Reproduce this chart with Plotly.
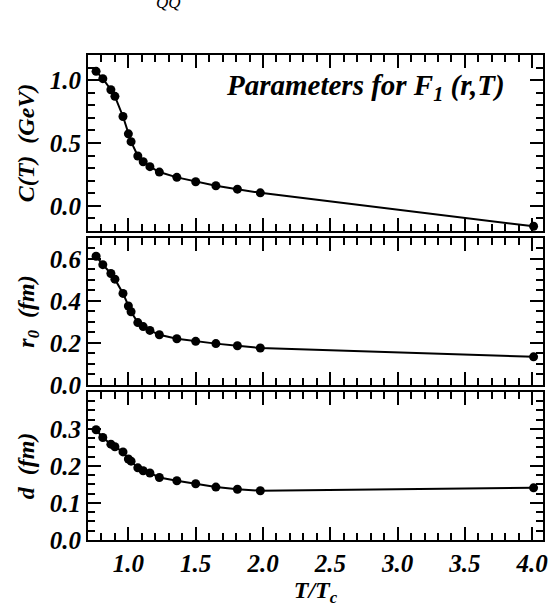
import plotly.graph_objects as go
from plotly.subplots import make_subplots

# Data
t_over_tc = [0.76, 0.81, 0.87, 0.90, 0.96, 1.00, 1.02, 1.07, 1.11, 1.16, 1.23, 1.36, 1.50, 1.65, 1.81, 1.98, 4.01]
c_T = [1.070, 1.012, 0.924, 0.871, 0.711, 0.573, 0.511, 0.397, 0.351, 0.312, 0.269, 0.227, 0.192, 0.160, 0.133, 0.104, -0.162]
r0 = [0.613, 0.573, 0.531, 0.504, 0.436, 0.376, 0.349, 0.297, 0.278, 0.260, 0.239, 0.220, 0.208, 0.197, 0.187, 0.176, 0.134]
d_vals = [0.298, 0.277, 0.259, 0.252, 0.238, 0.219, 0.213, 0.195, 0.187, 0.181, 0.169, 0.160, 0.152, 0.143, 0.137, 0.133, 0.141]

x_ticks = [1.0, 1.5, 2.0, 2.5, 3.0, 3.5, 4.0]
x_ticktext = ["1.0", "1.5", "2.0", "2.5", "3.0", "3.5", "4.0"]
c_ticks = [0.0, 0.5, 1.0]
c_ticktext = ["0.0", "0.5", "1.0"]
r_ticks = [0.0, 0.2, 0.4, 0.6]
r_ticktext = ["0.0", "0.2", "0.4", "0.6"]
d_ticks = [0.0, 0.1, 0.2, 0.3]
d_ticktext = ["0.0", "0.1", "0.2", "0.3"]

FONT = "Liberation Serif"


def bi(labels):
    return [f"<b><i>{s}</i></b>" for s in labels]


fig = make_subplots(rows=3, cols=1, shared_xaxes=False, vertical_spacing=0.0)

for i, ys in enumerate([c_T, r0, d_vals], start=1):
    fig.add_trace(go.Scatter(
        x=t_over_tc, y=ys, mode="lines+markers",
        line=dict(color="black", width=2),
        marker=dict(color="black", size=9),
        showlegend=False, cliponaxis=False,
    ), row=i, col=1)

domains = [[0.637, 1.0], [0.3196, 0.6227], [0.0, 0.3052]]
tickfont = dict(family=FONT, size=25, color="black")
titlefont = dict(family=FONT, size=24, color="black")

common_axis = dict(
    showline=True, linecolor="black", linewidth=2, mirror="ticks",
    ticks="inside", ticklen=13, tickwidth=1.5, tickcolor="black",
    showgrid=False, zeroline=False, automargin=False,
    minor=dict(ticks="inside", ticklen=7, tickwidth=1.5, tickcolor="black", showgrid=False),
)

for i in range(1, 4):
    xname = "xaxis" if i == 1 else f"xaxis{i}"
    fig.layout[xname].update(
        range=[0.7, 4.08], tickvals=x_ticks, ticktext=bi(x_ticktext),
        showticklabels=(i == 3), tickfont=tickfont,
        **common_axis,
    )
    fig.layout[xname].minor.update(dtick=0.1, tick0=0.0)
    yname = "yaxis" if i == 1 else f"yaxis{i}"
    fig.layout[yname].update(domain=domains[i - 1], tickfont=tickfont, **common_axis)

fig.update_yaxes(range=[-0.2, 1.2], tickvals=c_ticks, ticktext=bi(c_ticktext),
                 minor=dict(dtick=0.1, tick0=0.0),
                 title=dict(text="<b><i>C(T)\u00a0\u00a0(GeV)</i></b>", font=titlefont, standoff=8), row=1, col=1)
fig.update_yaxes(range=[0.0, 0.7], tickvals=r_ticks, ticktext=bi(r_ticktext),
                 minor=dict(dtick=0.05, tick0=0.0),
                 title=dict(text="<b><i>r<sub>0</sub>\u00a0\u00a0(fm)</i></b>", font=titlefont, standoff=8), row=2, col=1)
fig.update_yaxes(range=[0.0, 0.4], tickvals=d_ticks, ticktext=bi(d_ticktext),
                 minor=dict(dtick=0.025, tick0=0.0),
                 title=dict(text="<b><i>d\u00a0\u00a0(fm)</i></b>", font=titlefont, standoff=8), row=3, col=1)
fig.update_xaxes(title=dict(text="<b><i>T/T<sub>c</sub></i></b>", font=titlefont, standoff=4), row=3, col=1)

fig.add_annotation(
    text="<b><i>Parameters for F<sub>1</sub> (r,T)</i></b>", xref="paper", yref="paper",
    x=0.92, y=0.935, xanchor="right", yanchor="middle", showarrow=False,
    font=dict(family=FONT, size=29, color="black"),
)
fig.add_annotation(
    text="<i>QQ</i>", xref="paper", yref="paper",
    x=0.176, y=(540 - 14) / 485, xanchor="center", yanchor="bottom", showarrow=False,
    font=dict(family=FONT, size=17, color="black"),
)

fig.update_layout(
    width=549, height=609,
    margin=dict(l=88, r=6, t=55, b=69, autoexpand=False),
    plot_bgcolor="white", paper_bgcolor="white",
    font=dict(family=FONT, color="black"),
)

fig.write_html(
    "out.html",
    config={"displayModeBar": False},
    post_script="document.body.style.margin='0';document.body.style.overflow='hidden';",
)
